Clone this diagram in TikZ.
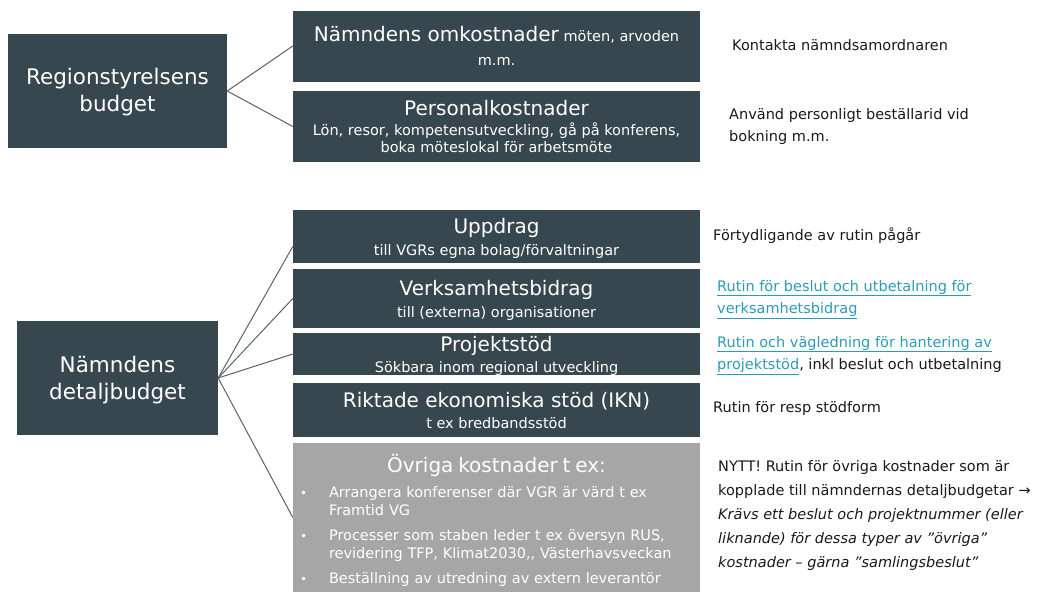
\documentclass[tikz,border=0pt]{standalone}
\usepackage{fontspec}
\setmainfont{DejaVu Sans}
\usepackage{xcolor}
\usetikzlibrary{positioning}

\definecolor{skiffer}{HTML}{37474F}
\definecolor{gra}{HTML}{A6A6A6}
\definecolor{lank}{HTML}{2B9CB4}
\definecolor{linje}{HTML}{56646A}
\newcommand{\rubrik}[1]{{\fontsize{20}{22}\selectfont #1}}
\newcommand{\lnk}[1]{\textcolor{lank}{\underline{#1}}}
\newcommand{\punkt}[1]{\par\vspace{7pt}\noindent\hangindent=32pt\hangafter=1\makebox[32pt][l]{\hspace{3pt}{\fontsize{12}{12}\selectfont\textbullet}}#1\par}

\begin{document}
\begin{tikzpicture}[x=1pt,y=-1pt,
	budget/.style={fill=skiffer,text=white,minimum width=#1,minimum height=114pt,align=center,inner sep=0pt,font=\fontsize{21.5}{27}\selectfont},
	kost/.style={fill=skiffer,text=white,minimum width=407pt,minimum height=#1,align=center,inner sep=0pt,font=\fontsize{14.5}{17}\selectfont},
	info/.style={anchor=north west,align=left,inner sep=0pt,text=black!90,font=\fontsize{14.5}{22.5}\selectfont},
	gren/.style={draw=linje,line width=1pt}]
	\useasboundingbox (0,0) rectangle (1040,592);

	% regionstyrelsens budget
	\node[budget=219pt,text depth=2pt] (rs) at (117.5,91) {Regionstyrelsens\\budget};
	\node[kost=71pt] (oms) at (496.5,46) {\rubrik{Nämndens omkostnader} möten, arvoden\\[7pt] m.m.};
	\node[kost=71pt,text depth=-5pt] (pers) at (496.5,126.5) {\rubrik{Personalkostnader}\\[3pt] Lön, resor, kompetensutveckling, gå på konferens,\\ boka möteslokal för arbetsmöte};
	\draw[gren] (rs.east) -- (oms.west);
	\draw[gren] (rs.east) -- (pers.west);

	% nämndens detaljbudget
	\node[budget=201pt,text depth=-2pt] (nd) at (117.5,378) {Nämndens\\detaljbudget};
	\node[kost=53pt,text depth=-4.6pt] (uppd) at (496.5,236.5) {\rubrik{Uppdrag}\\[5pt] till VGRs egna bolag/förvaltningar};
	\node[kost=59pt,text depth=-2.6pt] (verk) at (496.5,298.5) {\rubrik{Verksamhetsbidrag}\\[5pt] till (externa) organisationer};
	\node[kost=42pt,text depth=-6.6pt] (proj) at (496.5,354) {\rubrik{Projektstöd}\\[4pt] Sökbara inom regional utveckling};
	\node[kost=54pt] (rikt) at (496.5,410) {\rubrik{Riktade ekonomiska stöd (IKN)}\\[4pt] t ex bredbandsstöd};
	\node[fill=gra,text=white,minimum width=407pt,minimum height=149pt,text width=399pt,inner xsep=4pt,inner ysep=0pt,align=left,font=\fontsize{14.5}{18}\selectfont] (ovr) at (496.5,517.5)
		{{\centering\rule{0pt}{24pt}\rubrik{Övriga kostnader t ex:}\par}
		\punkt{Arrangera konferenser där VGR är värd t ex\newline Framtid VG}
		\punkt{Processer som staben leder t ex översyn RUS,\newline revidering TFP, Klimat2030,{},\ Västerhavsveckan}
		\punkt{Beställning av utredning av extern leverantör}};
	\draw[gren] (nd.east) -- ([yshift=-10pt]uppd.west);
	\draw[gren] (nd.east) -- (verk.west);
	\draw[gren] (nd.east) -- (proj.west);
	\draw[gren] (nd.east) -- (ovr.west);

	% rutiner
	\node[info] (kontakt) at (732,39) {Kontakta nämndsamordnaren};
	\node[info] (anvand) at (729,108) {Använd personligt beställarid vid\\ bokning m.m.};
	\node[info] (fortyd) at (713,228) {Förtydligande av rutin pågår};
	\node[info] (verkrutin) at (717,280) {\lnk{Rutin för beslut och utbetalning för}\\ \lnk{verksamhetsbidrag}};
	\node[info] (projrutin) at (717,336) {\lnk{Rutin och vägledning för hantering av}\\ \lnk{projektstöd}, inkl beslut och utbetalning};
	\node[info] (stodform) at (713,401) {Rutin för resp stödform};
	\node[info,font=\fontsize{14.5}{24}\selectfont] (nytt) at (718,460) {NYTT! Rutin för övriga kostnader som är\\ kopplade till nämndernas detaljbudgetar →\\ \textit{Krävs ett beslut och projektnummer (eller}\\ \textit{liknande) för dessa typer av ”övriga”}\\ \textit{kostnader – gärna ”samlingsbeslut”}};
\end{tikzpicture}
\end{document}
